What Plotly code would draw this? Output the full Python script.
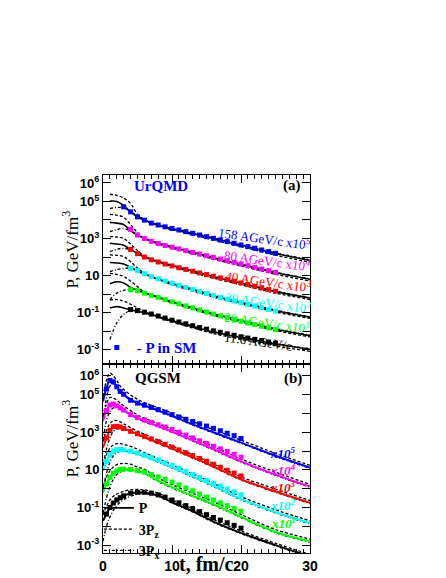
import plotly.graph_objects as go
from plotly.subplots import make_subplots

# beam momenta (AGeV/c), scale exponents (x10^n) and colours, top to bottom
ENERGIES = ["158", "80", "40", "30", "20", "11.6"]
SCALE_EXP = [5, 4, 3, 2, 1, 0]
COLORS = ["#0000ff", "#ff00ff", "#ff0000", "#00ffff", "#00ff00", "#000000"]

# ---- panel (a): UrQMD, log10 P in GeV/fm^3 (unscaled) ----
T_UR = [1, 2, 3, 4, 5, 6, 8, 10, 13, 16, 20, 25, 30]

UR_P_158 = [0.02, 0.0, -0.22, -0.56, -0.84, -1.02, -1.28, -1.47, -1.73, -2.0, -2.36, -2.81, -3.18]
UR_PZ_158 = [0.39, 0.33, 0.18, -0.11, -0.7, -0.98, -1.31, -1.52, -1.8, -2.08, -2.44, -2.9, -3.28]
UR_PX_158 = [-0.38, -0.32, -0.35, -0.55, -0.78, -1.0, -1.25, -1.44, -1.7, -1.97, -2.33, -2.78, -3.15]

UR_P_80 = [-0.13, -0.17, -0.25, -0.58, -0.82, -1.0, -1.26, -1.46, -1.75, -2.05, -2.4, -2.85, -3.2]
UR_PZ_80 = [0.3, 0.26, 0.15, -0.25, -0.68, -0.98, -1.3, -1.52, -1.82, -2.12, -2.48, -2.93, -3.3]
UR_PX_80 = [-0.63, -0.52, -0.46, -0.6, -0.8, -0.99, -1.24, -1.43, -1.72, -2.02, -2.37, -2.82, -3.17]

UR_P_40 = [-0.26, -0.3, -0.36, -0.6, -0.8, -1.0, -1.25, -1.46, -1.76, -2.07, -2.42, -2.87, -3.22]
UR_PZ_40 = [0.1, 0.08, 0.0, -0.3, -0.65, -0.95, -1.28, -1.52, -1.83, -2.14, -2.5, -2.95, -3.3]
UR_PX_40 = [-0.71, -0.58, -0.53, -0.62, -0.8, -0.98, -1.23, -1.44, -1.74, -2.04, -2.39, -2.84, -3.19]

UR_P_30 = [-0.3, -0.32, -0.38, -0.55, -0.76, -0.92, -1.2, -1.44, -1.76, -2.1, -2.46, -2.9, -3.25]
UR_PZ_30 = [0.11, 0.09, 0.02, -0.25, -0.6, -0.88, -1.22, -1.5, -1.83, -2.17, -2.53, -2.97, -3.32]
UR_PX_30 = [-0.79, -0.68, -0.62, -0.6, -0.75, -0.9, -1.17, -1.41, -1.73, -2.07, -2.43, -2.87, -3.22]

UR_P_20 = [-0.45, -0.34, -0.4, -0.64, -0.8, -0.93, -1.18, -1.42, -1.75, -2.08, -2.44, -2.9, -3.25]
UR_PZ_20 = [0.12, 0.06, -0.05, -0.3, -0.6, -0.88, -1.2, -1.48, -1.82, -2.15, -2.52, -2.97, -3.32]
UR_PX_20 = [-1.3, -0.95, -0.8, -0.76, -0.82, -0.93, -1.16, -1.4, -1.73, -2.06, -2.42, -2.87, -3.22]

UR_P_11 = [-0.76, -0.68, -0.75, -0.85, -0.93, -1.01, -1.23, -1.45, -1.76, -2.05, -2.35, -2.7, -2.98]
UR_PZ_11 = [-0.31, -0.3, -0.38, -0.55, -0.75, -0.95, -1.25, -1.5, -1.83, -2.14, -2.45, -2.8, -3.1]
UR_PX_11 = [-2.46, -1.56, -1.1, -0.9, -0.93, -1.0, -1.2, -1.42, -1.73, -2.02, -2.32, -2.67, -2.95]

# statistical model points on top of UrQMD
T_UR_SM = [3, 4, 5, 6, 7, 8, 9, 10, 11, 12, 13, 14, 15, 16, 17, 18, 19, 20, 21, 22, 23, 24, 25]
UR_SM_158 = [-0.29, -0.56, -0.83, -1.01, -1.17, -1.27, -1.37, -1.46, -1.54, -1.63, -1.72, -1.81,
             -1.90, -1.99, -2.08, -2.17, -2.26, -2.35, -2.44, -2.53, -2.62, -2.71, -2.80]
UR_SM_80 = [None, -0.51, -0.81, -1.0, -1.15, -1.27, -1.38, -1.47, -1.56, -1.66, -1.75, -1.84,
            -1.93, -2.02, -2.11, -2.20, -2.29, -2.38, -2.47, -2.56, -2.65, -2.74, -2.83]
UR_SM_40 = [None, -0.59, -0.82, -1.0, -1.15, -1.27, -1.38, -1.48, -1.58, -1.67, -1.77, -1.86,
            -1.95, -2.04, -2.13, -2.22, -2.31, -2.40, -2.49, -2.58, -2.67, -2.76, -2.85]
UR_SM_30 = [None, -0.62, -0.72, -0.9, -1.05, -1.18, -1.3, -1.42, -1.53, -1.64, -1.75, -1.86,
            -1.97, -2.08, -2.18, -2.28, -2.38, -2.47, -2.56, -2.65, -2.74, -2.83, -2.92]
UR_SM_20 = [None, -0.77, -0.82, -0.95, -1.07, -1.18, -1.3, -1.42, -1.53, -1.64, -1.75, -1.86,
            -1.97, -2.08, -2.18, -2.28, -2.38, -2.47, -2.56, -2.65, -2.74, -2.83, -2.92]
UR_SM_11 = [None, -0.84, -0.9, -0.98, -1.08, -1.19, -1.3, -1.41, -1.51, -1.61, -1.71, -1.81,
            -1.9, -1.99, -2.07, -2.15, -2.23, -2.31, -2.38, -2.45, -2.52, -2.59, -2.66]

# ---- panel (b): QGSM, log10 P in GeV/fm^3 (unscaled) ----
T_QG = [0, 0.5, 1, 1.5, 2, 2.5, 3, 4, 5, 6, 8, 10, 13, 16, 20, 25, 30]

QG_P_158 = [-0.36, 0.35, 0.78, 0.7, 0.4, 0.15, 0.0, -0.26, -0.43, -0.57, -0.84, -1.12, -1.58, -2.0, -2.55, -3.25, -3.88]
QG_PZ_158 = [-0.1, 0.75, 1.14, 1.0, 0.75, 0.45, 0.28, -0.02, -0.24, -0.42, -0.7, -0.98, -1.43, -1.86, -2.42, -3.12, -3.76]
QG_PX_158 = [-1.3, -0.2, 0.45, 0.55, 0.33, 0.1, -0.04, -0.3, -0.47, -0.61, -0.88, -1.16, -1.62, -2.04, -2.59, -3.29, -3.92]

QG_P_80 = [-0.42, 0.15, 0.45, 0.5, 0.4, 0.3, 0.18, -0.05, -0.23, -0.4, -0.68, -0.97, -1.43, -1.9, -2.55, -3.25, -3.89]
QG_PZ_80 = [-0.2, 0.5, 0.85, 0.82, 0.7, 0.55, 0.42, 0.15, -0.07, -0.25, -0.54, -0.83, -1.29, -1.76, -2.42, -3.12, -3.77]
QG_PX_80 = [-1.4, -0.4, 0.1, 0.3, 0.32, 0.25, 0.14, -0.09, -0.27, -0.44, -0.72, -1.01, -1.47, -1.94, -2.59, -3.29, -3.93]

QG_P_40 = [-0.83, -0.3, 0.1, 0.3, 0.32, 0.28, 0.2, 0.05, -0.1, -0.25, -0.55, -0.86, -1.33, -1.82, -2.5, -3.15, -3.75]
QG_PZ_40 = [-0.5, 0.1, 0.45, 0.62, 0.62, 0.55, 0.45, 0.25, 0.06, -0.11, -0.41, -0.72, -1.19, -1.68, -2.37, -3.02, -3.63]
QG_PX_40 = [-1.8, -0.9, -0.3, 0.05, 0.18, 0.2, 0.16, 0.02, -0.14, -0.29, -0.59, -0.9, -1.37, -1.86, -2.54, -3.19, -3.79]

QG_P_30 = [-1.06, -0.55, -0.2, 0.0, 0.08, 0.08, 0.06, -0.02, -0.13, -0.26, -0.55, -0.86, -1.35, -1.85, -2.55, -3.25, -3.83]
QG_PZ_30 = [-0.75, -0.2, 0.15, 0.33, 0.4, 0.4, 0.36, 0.25, 0.1, -0.08, -0.4, -0.72, -1.21, -1.71, -2.42, -3.12, -3.71]
QG_PX_30 = [-2.0, -1.2, -0.6, -0.25, -0.08, -0.02, 0.0, -0.05, -0.16, -0.3, -0.59, -0.9, -1.39, -1.89, -2.59, -3.29, -3.87]

QG_P_20 = [-1.21, -0.75, -0.4, -0.18, -0.05, 0.02, 0.04, 0.0, -0.07, -0.17, -0.58, -0.92, -1.38, -1.83, -2.5, -3.3, -3.8]
QG_PZ_20 = [-0.9, -0.4, -0.05, 0.15, 0.28, 0.33, 0.35, 0.3, 0.15, 0.03, -0.44, -0.78, -1.24, -1.69, -2.37, -3.17, -3.68]
QG_PX_20 = [-2.3, -1.5, -0.9, -0.5, -0.25, -0.12, -0.04, -0.04, -0.1, -0.2, -0.62, -0.96, -1.42, -1.87, -2.54, -3.34, -3.84]

QG_P_11 = [-1.71, -1.35, -1.0, -0.76, -0.6, -0.48, -0.38, -0.25, -0.2, -0.21, -0.36, -0.72, -1.2, -1.75, -2.35, -3.0, -3.6]
QG_PZ_11 = [-1.4, -0.95, -0.6, -0.4, -0.28, -0.2, -0.14, -0.06, -0.04, -0.07, -0.24, -0.6, -1.08, -1.63, -2.24, -2.9, -3.5]
QG_PX_11 = [-2.8, -2.0, -1.5, -1.15, -0.9, -0.72, -0.58, -0.4, -0.3, -0.27, -0.4, -0.76, -1.24, -1.79, -2.39, -3.04, -3.64]

T_QG_SM = [0.5, 1, 1.5, 2, 2.5, 3, 4, 5, 6, 7, 8, 9, 10, 11, 12, 13, 14, 15, 16, 17, 18, 19, 20]
QG_SM_158 = [0.3, 0.75, 0.68, 0.42, 0.17, 0.02, -0.3, -0.45, -0.56, -0.68, -0.8, -0.93, -1.06,
             -1.19, -1.31, -1.43, -1.55, -1.67, -1.79, -1.92, -2.05, -2.18, -2.33]
QG_SM_80 = [0.15, 0.45, 0.5, 0.4, 0.3, 0.18, -0.06, -0.22, -0.35, -0.47, -0.6, -0.72, -0.85,
            -1.0, -1.15, -1.3, -1.45, -1.6, -1.74, -1.88, -2.02, -2.17, -2.33]
QG_SM_40 = [-0.3, 0.1, 0.3, 0.32, 0.28, 0.2, 0.05, -0.08, -0.22, -0.36, -0.5, -0.64, -0.79,
            -0.94, -1.09, -1.24, -1.39, -1.54, -1.7, -1.86, -2.02, -2.17, -2.32]
QG_SM_30 = [-0.55, -0.2, 0.0, 0.08, 0.08, 0.06, -0.01, -0.11, -0.22, -0.35, -0.48, -0.62, -0.77,
            -0.92, -1.08, -1.24, -1.4, -1.56, -1.71, -1.86, -2.02, -2.17, -2.32]
QG_SM_20 = [-0.75, -0.4, -0.18, -0.05, 0.02, 0.04, 0.02, -0.04, -0.12, -0.24, -0.37, -0.5, -0.65,
            -0.8, -0.96, -1.12, -1.28, -1.44, -1.6, -1.75, -1.9, -2.05, -2.2]
QG_SM_11 = [-1.35, -1.0, -0.76, -0.6, -0.48, -0.38, -0.24, -0.19, -0.19, -0.24, -0.33, -0.45, -0.6,
            -0.75, -0.9, -1.06, -1.22, -1.38, -1.53, -1.67, -1.81, -1.95, -2.1]

UR_P = [UR_P_158, UR_P_80, UR_P_40, UR_P_30, UR_P_20, UR_P_11]
UR_PZ = [UR_PZ_158, UR_PZ_80, UR_PZ_40, UR_PZ_30, UR_PZ_20, UR_PZ_11]
UR_PX = [UR_PX_158, UR_PX_80, UR_PX_40, UR_PX_30, UR_PX_20, UR_PX_11]
UR_SM = [UR_SM_158, UR_SM_80, UR_SM_40, UR_SM_30, UR_SM_20, UR_SM_11]
QG_P = [QG_P_158, QG_P_80, QG_P_40, QG_P_30, QG_P_20, QG_P_11]
QG_PZ = [QG_PZ_158, QG_PZ_80, QG_PZ_40, QG_PZ_30, QG_PZ_20, QG_PZ_11]
QG_PX = [QG_PX_158, QG_PX_80, QG_PX_40, QG_PX_30, QG_PX_20, QG_PX_11]
QG_SM = [QG_SM_158, QG_SM_80, QG_SM_40, QG_SM_30, QG_SM_20, QG_SM_11]

SERIF = "Liberation Serif"
SANS = "Liberation Sans"
DASH_Z = "3px,2px"          # 3Pz: short dashes
DASH_X = "3px,2px,1px,2px"  # 3Px: dash-dot


def scaled(logs, n):
    # log10 values -> plotted pressure multiplied by 10^n
    return [None if v is None else 10 ** (v + n) for v in logs]


fig = make_subplots(rows=2, cols=1, shared_xaxes=True, vertical_spacing=0)

for i, n in enumerate(SCALE_EXP):
    first = i == 0
    # UrQMD: black P / 3Pz / 3Px lines + coloured SM squares
    fig.add_trace(go.Scatter(x=T_UR, y=scaled(UR_P[i], n), mode="lines", line_shape="spline",
                             line=dict(color="black", width=1.6),
                             name="P", showlegend=first, legend="legend"), row=1, col=1)
    fig.add_trace(go.Scatter(x=T_UR, y=scaled(UR_PZ[i], n), mode="lines", line_shape="spline",
                             line=dict(color="black", width=1.3, dash=DASH_Z),
                             name="3P<sub>z</sub>", showlegend=first, legend="legend"), row=1, col=1)
    fig.add_trace(go.Scatter(x=T_UR, y=scaled(UR_PX[i], n), mode="lines", line_shape="spline",
                             line=dict(color="black", width=1.3, dash=DASH_X),
                             name="3P<sub>x</sub>", showlegend=first, legend="legend"), row=1, col=1)
    fig.add_trace(go.Scatter(x=T_UR_SM, y=scaled(UR_SM[i], n), mode="markers",
                             marker=dict(symbol="square", size=5, color=COLORS[i]),
                             name="- P in SM", showlegend=first, legend="legend2"), row=1, col=1)

    # QGSM: coloured P line, black 3Pz / 3Px, coloured SM squares
    fig.add_trace(go.Scatter(x=T_QG, y=scaled(QG_PZ[i], n), mode="lines", line_shape="spline",
                             line=dict(color="black", width=1.3, dash=DASH_Z),
                             showlegend=False), row=2, col=1)
    fig.add_trace(go.Scatter(x=T_QG, y=scaled(QG_PX[i], n), mode="lines", line_shape="spline",
                             line=dict(color="black", width=1.3, dash=DASH_X),
                             showlegend=False), row=2, col=1)
    fig.add_trace(go.Scatter(x=T_QG, y=scaled(QG_P[i], n), mode="lines", line_shape="spline",
                             line=dict(color=COLORS[i], width=2),
                             showlegend=False), row=2, col=1)
    fig.add_trace(go.Scatter(x=T_QG_SM, y=scaled(QG_SM[i], n), mode="markers",
                             marker=dict(symbol="square", size=5, color=COLORS[i]),
                             showlegend=False), row=2, col=1)

# axes
fig.update_xaxes(range=[0, 30], tick0=0, dtick=10, ticks="inside", ticklen=8, tickcolor="black",
                 showline=True, linecolor="black", linewidth=1, mirror="ticks", automargin=False,
                 minor=dict(ticks="inside", ticklen=4, dtick=1, tickcolor="black"),
                 showgrid=False, zeroline=False,
                 tickfont=dict(family=SANS, size=14, color="black", weight="bold"))
fig.update_xaxes(showticklabels=False, row=1, col=1)

decades = [1e-3, 1e-2, 1e-1, 1, 10, 100, 1e3, 1e4, 1e5, 1e6]
dec_text = ["10<sup>-3</sup>", "", "10<sup>-1</sup>", "", "10", "", "10<sup>3</sup>", "",
            "10<sup>5</sup>", "10<sup>6</sup>"]
fig.update_yaxes(type="log", tickvals=decades, ticktext=dec_text, ticks="inside", ticklen=8,
                 tickcolor="black", showline=True, linecolor="black", linewidth=1, mirror="ticks",
                 showgrid=False, zeroline=False, automargin=False,
                 tickfont=dict(family=SANS, size=13, color="black", weight="bold"))
fig.update_yaxes(range=[-3.78, 6.43], row=1, col=1)
fig.update_yaxes(range=[-3.42, 6.63], row=2, col=1)


# positions below are read in window pixels; plot area spans x 103..310, y 175..555
def px(x):
    return (x - 103) / 207


def py(y):
    return (555 - y) / 380


notes = [
    ("<b>UrQMD</b>", 161, 186, "#0000ff", 15, 0, "normal"),
    ("<b>(a)</b>", 292, 186, "black", 15, 0, "normal"),
    ("<b>QGSM</b>", 158, 379, "black", 15, 0, "normal"),
    ("<b>(b)</b>", 293, 380, "black", 15, 0, "normal"),
]
ur_pos = [(264, 238), (267, 260), (268, 282), (268, 303), (267, 323), (258, 342)]
qg_pos = [(283, 454), (283, 472), (283, 489), (283, 507), (283, 525)]
for i, e in enumerate(ENERGIES):
    label = e + " AGeV/c"
    if SCALE_EXP[i] > 0:
        label += " x10<sup>%d</sup>" % SCALE_EXP[i]
    notes.append((label, ur_pos[i][0], ur_pos[i][1], COLORS[i], 13, 8, "normal"))
    if SCALE_EXP[i] > 0:
        notes.append(("<b>x10<sup>%d</sup></b>" % SCALE_EXP[i], qg_pos[i][0], qg_pos[i][1],
                      COLORS[i], 13, 0, "italic"))

annotations = []
for text, x, y, color, size, angle, style in notes:
    annotations.append(dict(text=text, x=px(x), y=py(y), xref="paper", yref="paper",
                            xanchor="center", yanchor="middle", showarrow=False, textangle=angle,
                            font=dict(family=SERIF, size=size, color=color, style=style)))

# axis titles
for yc in (250, 440):
    annotations.append(dict(text="P, GeV/fm<sup>3</sup>", x=px(70), y=py(yc), xref="paper",
                            yref="paper", xanchor="center", yanchor="middle", showarrow=False,
                            textangle=-90, font=dict(family=SERIF, size=17, color="black")))
annotations.append(dict(text="<b>t, fm/c</b>", x=px(206), y=py(566), xref="paper", yref="paper",
                        xanchor="center", yanchor="middle", showarrow=False,
                        font=dict(family=SERIF, size=20, color="black")))

# the page body adds an 8px offset, so the figure is 8px smaller than the window
fig.update_layout(
    width=438, height=570,
    margin=dict(l=95, r=136, t=167, b=23),
    plot_bgcolor="white", paper_bgcolor="white",
    annotations=annotations,
    legend=dict(x=-0.02, y=py(494), xanchor="left", yanchor="top", bgcolor="rgba(0,0,0,0)",
                tracegroupgap=0, itemwidth=30, traceorder="normal",
                font=dict(family=SERIF, size=14, color="black", weight="bold")),
    legend2=dict(x=-0.03, y=py(332), xanchor="left", yanchor="top", bgcolor="rgba(0,0,0,0)",
                 itemwidth=30,
                 font=dict(family=SERIF, size=15, color="#0000ff", weight="bold")),
)

fig.write_html("out.html")
